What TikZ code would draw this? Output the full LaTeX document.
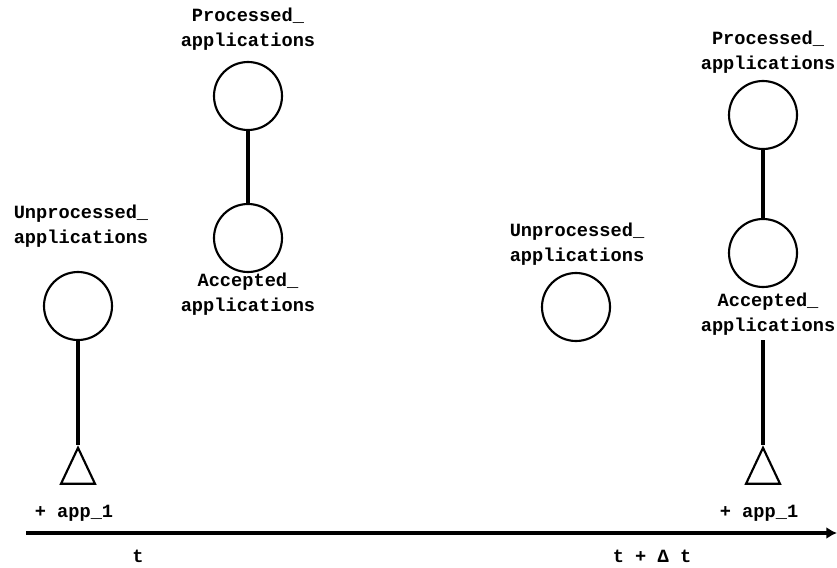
\documentclass[tikz,border=0pt]{standalone}
\usepackage{fontspec}
\setmonofont{Liberation Mono}
\usetikzlibrary{arrows.meta,positioning,shapes.geometric}
\tikzset{
  obj/.style={circle,draw,line width=1.6pt,minimum size=51pt,inner sep=0pt},
  lbl/.style={align=center,font=\ttfamily\bfseries\fontsize{14}{18.75}\selectfont,inner sep=0pt},
  addmark/.style={isosceles triangle,shape border rotate=90,isosceles triangle stretches,draw,line width=1.6pt,minimum width=25.5pt,minimum height=27pt,inner sep=0pt,anchor=apex},
  link/.style={line width=2.3pt},
  timeline/.style={-{Latex[length=8pt,width=9pt]},line width=3pt}
}

\begin{document}
\begin{tikzpicture}[x=0.75pt,y=-0.75pt]
  \useasboundingbox (0,0) rectangle (837,567);

  % state at t
  \node[lbl] (unprocL) at (81,226) {Unprocessed\_\\applications};
  \node[obj] (unprocA) at (78,306) {};
  \node[addmark] (addA) at (78,445) {};
  \node[lbl] (addlblA) at (74,513) {+ app\_1};

  \node[lbl] (procL) at (248,29) {Processed\_\\applications};
  \node[obj] (procA) at (248,96) {};
  \node[obj] (accA) at (248,238) {};
  \node[lbl] (accL) at (248,294) {Accepted\_\\applications};

  \draw[link] (unprocA.south) -- (addA.apex);
  \draw[link] (procA.south) -- (accA.north);

  % state at t + dt
  \node[lbl] (unprocLB) at (577,244) {Unprocessed\_\\applications};
  \node[obj] (unprocB) at (576,307) {};

  \node[lbl] (procLB) at (768,52) {Processed\_\\applications};
  \node[obj] (procB) at (763,115) {};
  \node[obj] (accB) at (763,253) {};
  \node[lbl] (accLB) at (768,314) {Accepted\_\\applications};
  \coordinate (accfoot) at (763,340);
  \node[addmark] (addB) at (763,445) {};
  \node[lbl] (addlblB) at (759,513) {+ app\_1};

  \draw[link] (procB.south) -- (accB.north);
  \draw[link] (accfoot) -- (addB.apex);

  % time axis
  \coordinate (axisstart) at (26,533);
  \coordinate (axisend) at (837,533);
  \draw[timeline] (axisstart) -- (axisend);
  \node[lbl] (tA) at (138,556) {t};
  \node[lbl] (tB) at (652,556) {t + Δ t};
\end{tikzpicture}
\end{document}
